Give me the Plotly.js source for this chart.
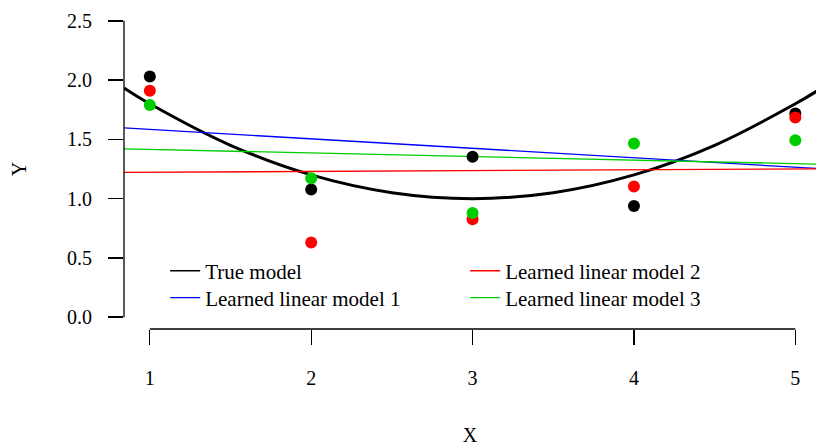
<!DOCTYPE html>
<html>
<head>
<meta charset="utf-8">
<script src="https://cdn.plot.ly/plotly-3.0.1.min.js"></script>
<style>html,body{margin:0;padding:0;background:#fff;overflow:hidden}</style>
</head>
<body>
<div id="chart" style="width:816px;height:446px"></div>
<script>
// Observed data points
var xPoints = [1, 2, 3, 4, 5];
var yBlack = [2.03, 1.078, 1.353, 0.938, 1.718];
var yRed   = [1.91, 0.629, 0.826, 1.103, 1.684];
var yGreen = [1.79, 1.171, 0.879, 1.465, 1.493];

// True model curve
var xTrue = [0.84, 1.0, 1.5, 2.0, 2.5, 3.0, 3.5, 4.0, 4.5, 5.0, 5.16];
var yTrue = [1.934, 1.80, 1.45, 1.20, 1.05, 1.00, 1.05, 1.20, 1.45, 1.80, 1.93];

// Learned linear models (end points across the plot)
var xLine = [0.84, 5.16];
var yModel1 = [1.597, 1.252];
var yModel2 = [1.221, 1.252];
var yModel3 = [1.420, 1.290];

// Tick labels
var xTicks = [1, 2, 3, 4, 5];
var yTicks = [0.0, 0.5, 1.0, 1.5, 2.0, 2.5];
var yTickText = ["0.0", "0.5", "1.0", "1.5", "2.0", "2.5"];

var GREEN = "#00cd00";
var FONT = "Liberation Serif, Times New Roman, serif";

var traces = [
  {x: xTrue, y: yTrue, mode: "lines", name: "True model", showlegend: false,
   line: {color: "black", width: 3, shape: "spline"}},
  // legend entry for the true model (thin line sample, as in the reference legend)
  {x: [null], y: [null], mode: "lines", name: "True model", legend: "legend",
   line: {color: "black", width: 1.3}},
  {x: xLine, y: yModel1, mode: "lines", name: "Learned linear model 1", legend: "legend2",
   line: {color: "blue", width: 1.3}},
  {x: xLine, y: yModel2, mode: "lines", name: "Learned linear model 2", legend: "legend3",
   line: {color: "red", width: 1.3}},
  {x: xLine, y: yModel3, mode: "lines", name: "Learned linear model 3", legend: "legend4",
   line: {color: GREEN, width: 1.3}},
  {x: xPoints, y: yBlack, mode: "markers", showlegend: false, marker: {color: "black", size: 12}},
  {x: xPoints, y: yRed, mode: "markers", showlegend: false, marker: {color: "red", size: 12}},
  {x: xPoints, y: yGreen, mode: "markers", showlegend: false, marker: {color: GREEN, size: 12}}
];

function legendAt(x, y) {
  return {
    x: x, y: y, xanchor: "left", yanchor: "middle",
    bgcolor: "rgba(0,0,0,0)", borderwidth: 0, itemwidth: 30,
    font: {family: FONT, size: 21, color: "black"}
  };
}
var col1 = 0.0595, col2 = 0.493, row1 = 0.181, row2 = 0.097;

var layout = {
  width: 816, height: 446,
  margin: {l: 124, r: 0, t: 9, b: 117},
  paper_bgcolor: "white", plot_bgcolor: "white",
  font: {family: FONT, size: 20, color: "black"},
  showlegend: true,
  legend: legendAt(col1, row1),
  legend2: legendAt(col1, row2),
  legend3: legendAt(col2, row1),
  legend4: legendAt(col2, row2),
  xaxis: {
    range: [0.84, 5.128], showgrid: false, zeroline: false, showline: false,
    tickmode: "array", tickvals: xTicks, ticktext: xTicks.map(String),
    ticks: "outside", ticklen: 15, tickwidth: 1.3, tickcolor: "black",
    ticklabelstandoff: 16,
    title: {text: "X", standoff: 45, font: {family: FONT, size: 20}}
  },
  yaxis: {
    range: [-0.1, 2.6], showgrid: false, zeroline: false, showline: false,
    tickmode: "array", tickvals: yTicks, ticktext: yTickText,
    ticks: "outside", ticklen: 15, tickwidth: 1.3, tickcolor: "black",
    ticklabelstandoff: 12,
    title: {text: "Y", standoff: 35, font: {family: FONT, size: 20}}
  },
  shapes: [
    {type: "line", xref: "paper", yref: "y", x0: 0, x1: 0, y0: yTicks[0], y1: yTicks[yTicks.length-1],
     line: {color: "black", width: 1.3}},
    {type: "line", xref: "x", yref: "paper", x0: xTicks[0], x1: xTicks[xTicks.length-1], y0: 0, y1: 0,
     line: {color: "black", width: 1.3}}
  ]
};

Plotly.newPlot("chart", traces, layout, {displayModeBar: false, staticPlot: true});
</script>
</body>
</html>
